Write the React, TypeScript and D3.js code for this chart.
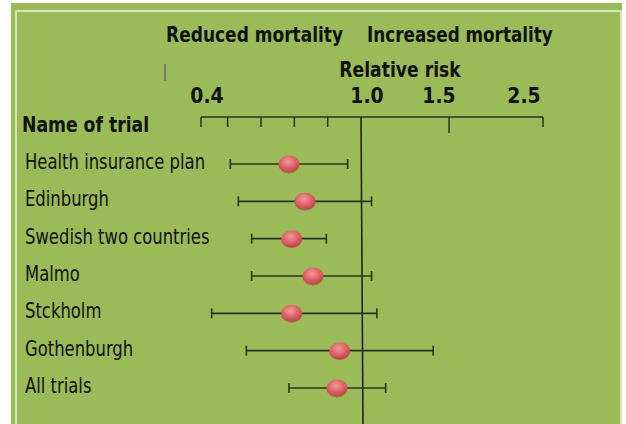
import React from "react";
import { scaleLinear, scalePoint } from "d3";

// trials, point estimate and confidence interval (relative risk)
const trials = [
  "Health insurance plan",
  "Edinburgh",
  "Swedish two countries",
  "Malmo",
  "Stckholm",
  "Gothenburgh",
  "All trials",
];
const estimates = [0.73, 0.79, 0.74, 0.82, 0.74, 0.92, 0.91];
const lower = [0.51, 0.54, 0.59, 0.59, 0.44, 0.57, 0.73];
const upper = [0.95, 1.06, 0.87, 1.06, 1.09, 1.41, 1.14];

const majorTicks = [0.4, 1.0, 1.5, 2.5];
const minorTicks = [0.5, 0.625, 0.75, 0.875];
const tickLabels = ["0.4", "1.0", "1.5", "2.5"];

const W = 626;
const H = 424;
const green = "#9bbb59";
const ink = "#2b3320";
const font = "'DejaVu Sans Condensed', 'DejaVu Sans', sans-serif";

// the slide font is narrow, so squeeze the text horizontally
const Txt = ({ x, y, anchor = "start", squeeze = 0.88, bold = false, size = 21, children }: any) => (
  <text
    transform={`translate(${x},${y}) scale(${squeeze},1)`}
    textAnchor={anchor}
    fontFamily={font}
    fontWeight={bold ? "bold" : "normal"}
    fontSize={size}
    fill="#111"
  >
    {children}
  </text>
);

export default function App() {
  // the slide's axis is not a clean scale, so it is piecewise between labelled values
  const x = scaleLinear().domain(majorTicks).range([201, 361, 449, 543]);
  const y = scalePoint().domain(trials).range([164, 388]);
  const axisY = 117;
  const labelDx = [6, 6, -10, -19];
  const one = x(1.0);

  return (
    <div style={{ position: "absolute", left: 0, top: 0 }}>
      <svg width={W} height={H} style={{ display: "block" }}>
        <defs>
          <radialGradient id="dot" cx="45%" cy="35%" r="65%">
            <stop offset="0%" stopColor="#f39a9a" />
            <stop offset="55%" stopColor="#e06468" />
            <stop offset="100%" stopColor="#b8434a" />
          </radialGradient>
        </defs>
        <rect width={W} height={H} fill="#ffffff" />
        <rect x={11} y={3} width={611} height={H - 3} fill={green} />
        <rect
          x={16}
          y={11}
          width={605}
          height={H}
          fill="none"
          stroke="#eef3d4"
          strokeWidth={1.5}
        />

        {/* header */}
        <Txt x={one - 18} y={42} anchor="end" bold size={22} squeeze={0.86}>
          Reduced mortality
        </Txt>
        <Txt x={one + 6} y={42} bold size={22} squeeze={0.85}>
          Increased mortality
        </Txt>
        <Txt x={one + 39} y={77} anchor="middle" bold size={22} squeeze={0.87}>
          Relative risk
        </Txt>
        <Txt x={22} y={132} bold size={22} squeeze={0.87}>
          Name of trial
        </Txt>
        {majorTicks.map((t, i) => (
          <Txt key={t} x={x(t) + labelDx[i]} y={103} anchor="middle" bold size={22} squeeze={0.95}>
            {tickLabels[i]}
          </Txt>
        ))}
        <line x1={165} x2={165} y1={64} y2={81} stroke="#777" strokeWidth={2} />

        {/* axis */}
        <g stroke={ink} strokeWidth={1.5}>
          <line x1={x(0.4)} x2={x(2.5)} y1={axisY} y2={axisY} />
          {[0.4, ...minorTicks, 2.5].map((t) => (
            <line key={t} x1={x(t)} x2={x(t)} y1={axisY} y2={axisY + 10} />
          ))}
          <line x1={x(1.5)} x2={x(1.5)} y1={axisY} y2={axisY + 16} />
          <line x1={one} x2={one + 2} y1={axisY} y2={H} stroke="#1a1a1a" />
        </g>

        {/* trials */}
        {trials.map((name, i) => {
          const cy = y(name) as number;
          return (
            <g key={name}>
              <Txt x={25} y={cy + 5} size={22} squeeze={0.83}>
                {name}
              </Txt>
              <g stroke={ink} strokeWidth={1.6}>
                <line x1={x(lower[i])} x2={x(upper[i])} y1={cy} y2={cy} />
                <line x1={x(lower[i])} x2={x(lower[i])} y1={cy - 5} y2={cy + 5} />
                <line x1={x(upper[i])} x2={x(upper[i])} y1={cy - 5} y2={cy + 5} />
              </g>
              <ellipse
                cx={x(estimates[i])}
                cy={cy + 1}
                rx={10.5}
                ry={8.5}
                fill="#a83a40"
                opacity={0.5}
              />
              <ellipse cx={x(estimates[i])} cy={cy} rx={10.5} ry={8.5} fill="url(#dot)" />
            </g>
          );
        })}
      </svg>
    </div>
  );
}
